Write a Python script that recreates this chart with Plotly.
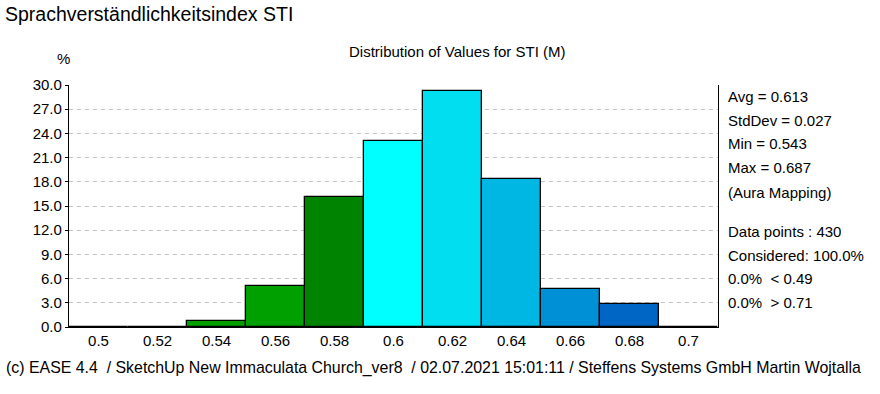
import plotly.graph_objects as go

categories = ["0.5", "0.52", "0.54", "0.56", "0.58", "0.6", "0.62", "0.64", "0.66", "0.68", "0.7"]
percent = [0, 0, 0.7, 5.1, 16.1, 23.0, 29.3, 18.4, 4.7, 2.8, 0]
bar_colors = ["#00A000", "#00A000", "#00A000", "#00A000", "#008400", "#00FFFF",
              "#00DEF0", "#00B6E2", "#0090D6", "#0066C6", "#0066C6"]
y_ticks = [0, 3, 6, 9, 12, 15, 18, 21, 24, 27, 30]
stats_lines = ["Avg = 0.613", "StdDev = 0.027", "Min = 0.543", "Max = 0.687", "(Aura Mapping)"]
info_lines = ["Data points : 430", "Considered: 100.0%", "0.0%  < 0.49", "0.0%  > 0.71"]

W, H = 880, 394
L, R, T, B = 69, 162, 85, 67
FONT = "Liberation Sans, Arial, sans-serif"

fig = go.Figure(go.Bar(
    x=categories, y=percent,
    marker=dict(color=bar_colors, line=dict(color="#000000", width=1.3)),
    width=1.0,
))

fig.update_layout(
    width=W, height=H,
    margin=dict(l=L, r=R, t=T, b=B, pad=0),
    paper_bgcolor="white", plot_bgcolor="white",
    bargap=0, showlegend=False,
    font=dict(family=FONT, size=15, color="#000000"),
)
fig.update_xaxes(
    type="category", range=[-0.5, 10.5],
    showline=True, linecolor="#000000", linewidth=1.3,
    showgrid=False, ticks="", tickfont=dict(size=15, family=FONT),
)
fig.update_yaxes(
    range=[0, 30], tickvals=y_ticks, ticktext=[f"{v:.1f}" for v in y_ticks],
    showline=True, linecolor="#000000", linewidth=1.3, mirror=True,
    ticks="outside", ticklen=3, tickcolor="#000000",
    showgrid=True, gridcolor="#C4C4C4", griddash="4px,4px", gridwidth=1,
    zeroline=False, tickfont=dict(size=15, family=FONT),
)

ph = H - T - B
def py(ypix):
    return (H - B - ypix) / ph

def px(xpix):
    return (xpix - L) / (W - L - R)

anns = []
anns.append(dict(text="Sprachverständlichkeitsindex STI", xref="paper", yref="paper",
                 x=px(3), y=py(14), xanchor="left", yanchor="middle",
                 showarrow=False, font=dict(size=19.5, family=FONT)))
anns.append(dict(text="Distribution of Values for STI (M)", xref="paper", yref="paper",
                 x=px(457), y=py(52), xanchor="center", yanchor="middle",
                 showarrow=False, font=dict(size=15, family=FONT)))
anns.append(dict(text="%", xref="paper", yref="paper",
                 x=px(63), y=py(58), xanchor="center", yanchor="middle",
                 showarrow=False, font=dict(size=15, family=FONT)))
for txt, yp in zip(stats_lines + info_lines, [97, 120, 143, 167, 192, 231, 255, 278, 302]):
    anns.append(dict(text=txt, xref="paper", yref="paper",
                     x=px(726), y=py(yp), xanchor="left", yanchor="middle",
                     showarrow=False, font=dict(size=15, family=FONT)))
anns.append(dict(text="(c) EASE 4.4  / SketchUp New Immaculata Church_ver8  / 02.07.2021 15:01:11 / Steffens Systems GmbH Martin Wojtalla",
                 xref="paper", yref="paper",
                 x=px(4), y=py(368), xanchor="left", yanchor="middle",
                 showarrow=False, font=dict(size=15.9, family=FONT)))
fig.update_layout(annotations=anns)

fig.write_html("out.html", config={"displayModeBar": False},
               post_script="document.body.style.margin='0';document.body.style.padding='0';")
